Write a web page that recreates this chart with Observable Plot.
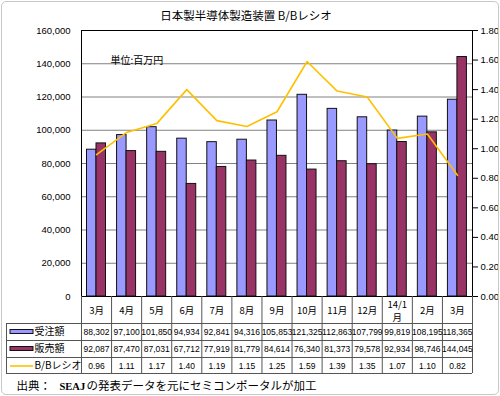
<!DOCTYPE html>
<html><head><meta charset="utf-8">
<script src="https://cdn.jsdelivr.net/npm/d3@7"></script>
<script src="https://cdn.jsdelivr.net/npm/@observablehq/plot@0.6"></script>
<style>
html,body{margin:0;padding:0;background:#fff;}
#wrap{position:relative;width:500px;height:396px;overflow:hidden;}
#border{position:absolute;left:1px;top:1px;width:496px;height:392px;border:1px solid #c8c8c8;border-radius:5px;pointer-events:none;}
</style></head><body><div id="wrap"><div id="border"></div></div>
<script>
const monthLabels = ["3月","4月","5月","6月","7月","8月","9月","10月","11月","12月","14/1\n月","2月","3月"];
const orders = [88302,97100,101850,94934,92841,94316,105853,121325,112863,107799,99819,108195,118365];
const sales  = [92087,87470,87031,67712,77919,81779,84614,76340,81373,79578,92934,98746,144045];
const ratio  = [0.96,1.11,1.17,1.40,1.19,1.15,1.25,1.59,1.39,1.35,1.07,1.10,0.82];
const yTicks = [0,20000,40000,60000,80000,100000,120000,140000,160000];
const ratioTicks = [0,0.2,0.4,0.6,0.8,1.0,1.2,1.4,1.6,1.8];
const seriesNames = ["受注額","販売額","B/Bレシオ"];
const title = "日本製半導体製造装置 B/Bレシオ";
const unitNote = "単位:百万円";
const source = ["出典：","SEAJ","の発表データを元にセミコンポータルが加工"];

const W = 500, H = 396, ML = 81, MR = 28, MT = 30, MB = 100;
const yMax = 160000, rMax = 1.8;
const toY = r => r * yMax / rMax;
const idx = d3.range(monthLabels.length);
const bw = (W - ML - MR) / idx.length;
const blue = "#9999FF", maroon = "#993366", gold = "#FFC000", grid = "#555";
const jp = "'Noto Sans CJK JP', sans-serif";
const fmt = d3.format(",");
const base = H - MB;              // pixel y of the x axis
const rowOff = [27, 44, 61, 77];  // table line offsets below the axis
const rowMid = [35.5, 52.5, 69.5];
const keyL = 10, keyR = 33;       // legend key span (px)

const plot = Plot.plot({
  width: W, height: H, marginLeft: ML, marginRight: MR, marginTop: MT, marginBottom: MB,
  x: {type: "band", domain: idx, padding: 0, round: false, axis: null},
  y: {domain: [0, yMax], axis: null},
  style: {fontFamily: "'Liberation Sans', Arial, sans-serif", fontSize: "10px", background: "#fff", color: "#000"},
  marks: [
    Plot.gridY(yTicks, {stroke: "#808080", strokeOpacity: 1}),
    Plot.barY(idx, {x: i => i, y: i => orders[i], fill: blue, stroke: "#111", strokeWidth: 1, insetLeft: 5.5, insetRight: bw - 15}),
    Plot.barY(idx, {x: i => i, y: i => sales[i], fill: maroon, stroke: "#111", strokeWidth: 1, insetLeft: 15, insetRight: bw - 24.5}),
    Plot.line(idx, {x: i => i, y: i => toY(ratio[i]), stroke: gold, strokeWidth: 1.6}),
    Plot.frame({stroke: "#000"}),
    Plot.axisY(yTicks, {anchor: "left", tickSize: 0, tickPadding: 11, tickFormat: d => fmt(d), fontSize: 9.5}),
    Plot.axisY(ratioTicks.map(toY), {anchor: "right", tickSize: 5, tickPadding: 3, tickFormat: v => (v * rMax / yMax).toFixed(2), fontSize: 9.5}),
    Plot.text([title], {frameAnchor: "top", lineAnchor: "middle", dx: -31, dy: -14, fontSize: 11.5, fontFamily: jp}),
    Plot.text([unitNote], {frameAnchor: "top-left", lineAnchor: "middle", dx: 29, dy: 30, textAnchor: "start", fontSize: 10, fontFamily: jp}),
    // table grid
    ...rowOff.map(o => Plot.ruleY([0], {dy: o, insetLeft: -(ML - 6), stroke: grid})),
    Plot.ruleX(idx, {x: i => i, dx: -bw / 2, insetTop: base - MT, insetBottom: -rowOff[3], stroke: grid}),
    Plot.ruleX([idx.length - 1], {x: i => i, dx: bw / 2, insetTop: base - MT, insetBottom: -rowOff[3], stroke: grid}),
    Plot.ruleX([0], {x: i => i, dx: -bw / 2 - (ML - 6), insetTop: base - MT + rowOff[0], insetBottom: -rowOff[3], stroke: grid}),
    // table text
    Plot.text(idx, {x: i => i, text: i => monthLabels[i], frameAnchor: "bottom", lineAnchor: "middle", dy: 13.5, fontSize: 9.5, lineHeight: 1.35, fontFamily: jp}),
    Plot.text(idx, {x: i => i, text: i => fmt(orders[i]), frameAnchor: "bottom", lineAnchor: "middle", dy: rowMid[0], fontSize: 8.5}),
    Plot.text(idx, {x: i => i, text: i => fmt(sales[i]), frameAnchor: "bottom", lineAnchor: "middle", dy: rowMid[1], fontSize: 8.5}),
    Plot.text(idx, {x: i => i, text: i => ratio[i].toFixed(2), frameAnchor: "bottom", lineAnchor: "middle", dy: rowMid[2], fontSize: 8.5}),
    // legend keys
    Plot.rect([0], {insetLeft: keyL - ML, insetRight: (W - MR) - keyR, insetTop: base + rowMid[0] - 2 - MT, insetBottom: -(rowMid[0] + 2), fill: blue, stroke: "#111"}),
    Plot.rect([0], {insetLeft: keyL - ML, insetRight: (W - MR) - keyR, insetTop: base + rowMid[1] - 2 - MT, insetBottom: -(rowMid[1] + 2), fill: maroon, stroke: "#111"}),
    Plot.ruleY([0], {dy: rowMid[2], insetLeft: keyL - ML, insetRight: (W - MR) - keyR, stroke: gold, strokeWidth: 1.6}),
    ...seriesNames.map((s, k) => Plot.text([s], {frameAnchor: "bottom-left", lineAnchor: "middle", dx: 34 - ML, dy: rowMid[k], textAnchor: "start", fontSize: 10, fontFamily: jp})),
    // source
    Plot.text([source[0]], {frameAnchor: "bottom-left", lineAnchor: "middle", dx: 16 - ML, dy: 90, textAnchor: "start", fontSize: 11.5, fontFamily: jp}),
    Plot.text([source[1]], {frameAnchor: "bottom-left", lineAnchor: "middle", dx: 59 - ML, dy: 90, textAnchor: "start", fontSize: 10.5, fontWeight: "bold", fontFamily: "'Liberation Serif', serif"}),
    Plot.text([source[2]], {frameAnchor: "bottom-left", lineAnchor: "middle", dx: 86 - ML, dy: 90, textAnchor: "start", fontSize: 11.5, fontFamily: jp})
  ]
});
document.getElementById("wrap").prepend(plot);
</script>
</body></html>
